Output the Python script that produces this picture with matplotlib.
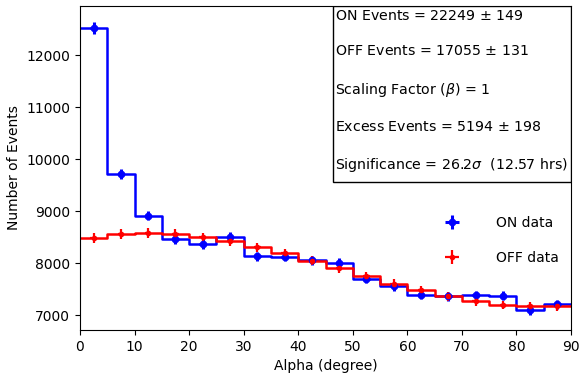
import numpy as np
import matplotlib.pyplot as plt
from matplotlib.patches import Rectangle

# Alpha bins (degrees)
edges = np.arange(0, 95, 5)
centers = edges[:-1] + 2.5

on_counts = [12530, 9720, 8920, 8470, 8375, 8505, 8135, 8130, 8060,
             8010, 7710, 7565, 7400, 7370, 7385, 7380, 7095, 7215]
off_counts = [8490, 8560, 8585, 8560, 8500, 8425, 8310, 8195, 8050,
              7905, 7755, 7610, 7485, 7370, 7275, 7200, 7175, 7175]

on_counts = np.array(on_counts, dtype=float)
off_counts = np.array(off_counts, dtype=float)

summary = ("ON Events = 22249 $\\pm$ 149\n\n"
           "OFF Events = 17055 $\\pm$ 131\n\n"
           "Scaling Factor ($\\beta$) = 1\n\n"
           "Excess Events = 5194 $\\pm$ 198\n\n"
           "Significance = 26.2$\\sigma$  (12.57 hrs)")

fig, ax = plt.subplots(figsize=(5.82, 3.81), dpi=100)
fig.subplots_adjust(left=80/582, right=571/582, top=1-6/381, bottom=1-330/381)

ax.step(edges, np.append(on_counts, on_counts[-1]), where='post', color='blue', lw=1.8)
ax.step(edges, np.append(off_counts, off_counts[-1]), where='post', color='red', lw=1.8)

ax.errorbar(centers, on_counts, yerr=np.sqrt(on_counts), xerr=0.6, fmt='o', color='blue',
            ms=4.5, elinewidth=2.2, capsize=0, label='ON data')
ax.errorbar(centers, off_counts, yerr=np.sqrt(off_counts), xerr=0.6, fmt='o', color='red',
            ms=3, elinewidth=1.6, capsize=0, label='OFF data')

ax.set_xlim(0, 90)
ax.set_ylim(6720, 12950)
ax.set_xticks(np.arange(0, 100, 10))
ax.set_yticks(np.arange(7000, 13000, 1000))
ax.tick_params(labelsize=10)
ax.set_xlabel('Alpha (degree)', fontsize=10)
ax.set_ylabel('Number of Events', fontsize=10)

ax.legend(loc='center right', bbox_to_anchor=(1.0, 0.276), frameon=False,
          fontsize=10, labelspacing=1.5, handlelength=1.5, handletextpad=2.4)

# summary box in the upper right corner
ax.add_patch(Rectangle((0.515, 0.458), 0.485, 0.542, transform=ax.transAxes,
                       facecolor='white', edgecolor='black', lw=1.0, zorder=5))
ax.text(0.519, 0.991, summary, transform=ax.transAxes, ha='left', va='top',
        fontsize=10.2, linespacing=1.34, zorder=6)

fig.savefig('out.png', dpi=100)
